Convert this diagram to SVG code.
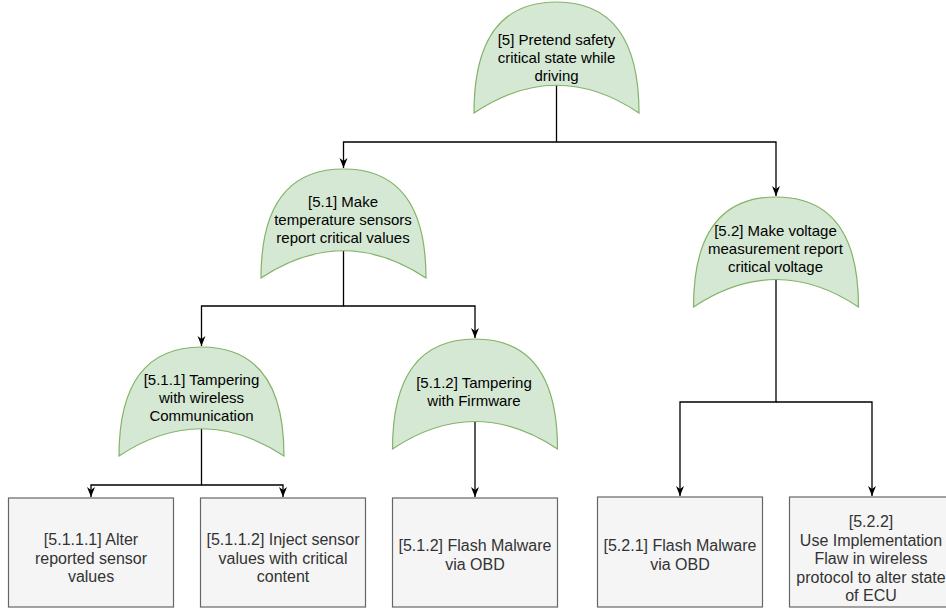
<svg xmlns="http://www.w3.org/2000/svg" width="946" height="610" viewBox="0 0 946 610">
  <defs>
    <marker id="arrow" viewBox="0 0 10 10" refX="10" refY="5" markerWidth="10" markerHeight="10" markerUnits="userSpaceOnUse" orient="auto">
      <path d="M0,1 L10,5 L0,9 L3,5 Z" fill="#000"/>
    </marker>
    <style>
      .gate { fill: #d5e8d4; stroke: #82b366; stroke-width: 1.2; }
      .leaf { fill: #f5f5f5; stroke: #666666; stroke-width: 1.2; }
      .gt { font-family: "Liberation Sans", Arial, Helvetica, sans-serif; font-size: 15px; fill: #000; text-anchor: middle; }
      .lt { font-family: "Liberation Sans", Arial, Helvetica, sans-serif; font-size: 16px; fill: #333333; text-anchor: middle; }
      .edge { fill: none; stroke: #000; stroke-width: 1.3; }
    </style>
  </defs>

  <rect width="946" height="610" fill="#ffffff"/>

  <!-- connectors -->
  <g id="edges">
    <path class="edge" d="M556.5,85 V142 H343.5 V168" marker-end="url(#arrow)"/>
    <path class="edge" d="M556.5,142 H776 V196" marker-end="url(#arrow)"/>
    <path class="edge" d="M343.5,251 V306 H201.5 V346" marker-end="url(#arrow)"/>
    <path class="edge" d="M343.5,306 H475 V338" marker-end="url(#arrow)"/>
    <path class="edge" d="M201.5,429 V485 H91 V497" marker-end="url(#arrow)"/>
    <path class="edge" d="M201.5,485 H283 V497" marker-end="url(#arrow)"/>
    <path class="edge" d="M475,422 V497" marker-end="url(#arrow)"/>
    <path class="edge" d="M776,280 V402 H680 V496" marker-end="url(#arrow)"/>
    <path class="edge" d="M776,402 H872 V496" marker-end="url(#arrow)"/>
  </g>

  <!-- gate nodes -->
  <g id="n5">
    <path class="gate" d="M474,113 Q474,2 556.5,2 Q639,2 639,113 Q556.5,57.5 474,113 Z"/>
    <text class="gt" x="556.5" y="45">[5] Pretend safety</text>
    <text class="gt" x="556.5" y="63">critical state while</text>
    <text class="gt" x="556.5" y="81">driving</text>
  </g>

  <g id="n5_1">
    <path class="gate" d="M261,278 Q261,169 343.5,169 Q426,169 426,278 Q343.5,223.5 261,278 Z"/>
    <text class="gt" x="343" y="207">[5.1] Make</text>
    <text class="gt" x="343" y="225">temperature sensors</text>
    <text class="gt" x="343" y="243">report critical values</text>
  </g>

  <g id="n5_2">
    <path class="gate" d="M693.5,307 Q693.5,197 776,197 Q858.5,197 858.5,307 Q776,252 693.5,307 Z"/>
    <text class="gt" x="775.5" y="236">[5.2] Make voltage</text>
    <text class="gt" x="775.5" y="254">measurement report</text>
    <text class="gt" x="775.5" y="272">critical voltage</text>
  </g>

  <g id="n5_1_1">
    <path class="gate" d="M119,456 Q119,347 201.5,347 Q284,347 284,456 Q201.5,401.5 119,456 Z"/>
    <text class="gt" x="201.5" y="385">[5.1.1] Tampering</text>
    <text class="gt" x="201.5" y="403">with wireless</text>
    <text class="gt" x="201.5" y="421">Communication</text>
  </g>

  <g id="n5_1_2">
    <path class="gate" d="M392.5,449 Q392.5,339 475,339 Q557.5,339 557.5,449 Q475,394 392.5,449 Z"/>
    <text class="gt" x="474" y="388">[5.1.2] Tampering</text>
    <text class="gt" x="474" y="406">with Firmware</text>
  </g>

  <!-- leaf nodes -->
  <g id="n5_1_1_1">
    <rect class="leaf" x="8.5" y="498" width="165" height="109"/>
    <text class="lt" x="91" y="545">[5.1.1.1] Alter</text>
    <text class="lt" x="91" y="563.5">reported sensor</text>
    <text class="lt" x="91" y="582">values</text>
  </g>

  <g id="n5_1_1_2">
    <rect class="leaf" x="200.5" y="498" width="165" height="109"/>
    <text class="lt" x="283" y="545">[5.1.1.2] Inject sensor</text>
    <text class="lt" x="283" y="563.5">values with critical</text>
    <text class="lt" x="283" y="582">content</text>
  </g>

  <g id="n5_1_2_leaf">
    <rect class="leaf" x="392.5" y="498" width="165" height="109"/>
    <text class="lt" x="475" y="551">[5.1.2] Flash Malware</text>
    <text class="lt" x="475" y="569.5">via OBD</text>
  </g>

  <g id="n5_2_1">
    <rect class="leaf" x="597.5" y="497" width="165" height="110"/>
    <text class="lt" x="680" y="551">[5.2.1] Flash Malware</text>
    <text class="lt" x="680" y="569.5">via OBD</text>
  </g>

  <g id="n5_2_2">
    <rect class="leaf" x="789.5" y="497" width="165" height="110"/>
    <text class="lt" x="871" y="527">[5.2.2]</text>
    <text class="lt" x="871" y="545.5">Use Implementation</text>
    <text class="lt" x="871" y="564">Flaw in wireless</text>
    <text class="lt" x="871" y="582.5">protocol to alter state</text>
    <text class="lt" x="871" y="601">of ECU</text>
  </g>
</svg>
